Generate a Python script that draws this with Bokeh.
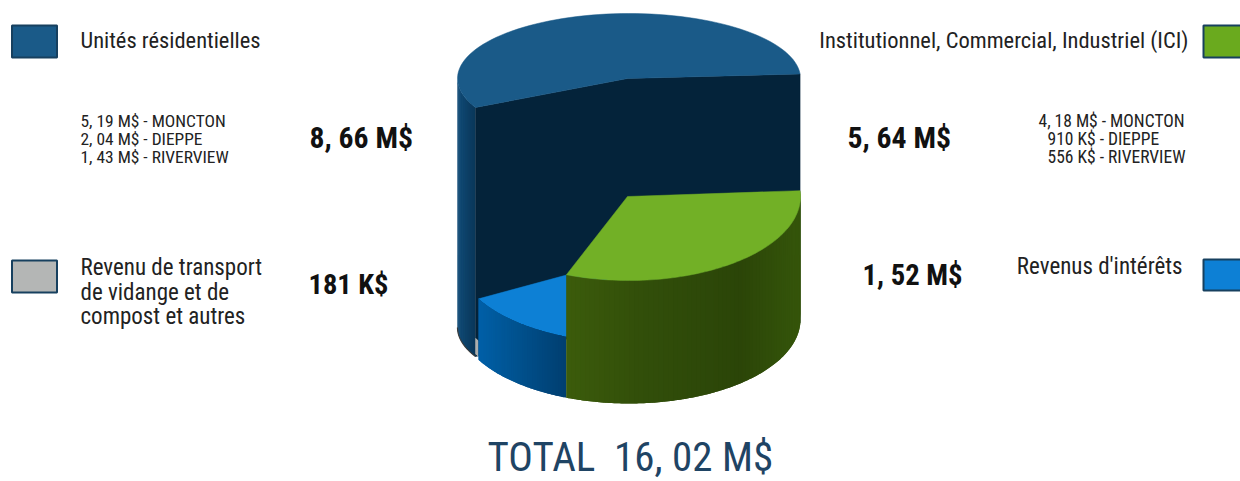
import math
from bokeh.plotting import figure
from bokeh.core.properties import value
from bokeh.embed import file_html
from bokeh.resources import INLINE

# ---- data ----
categories = ["Institutionnel, Commercial, Industriel (ICI)", "Revenus d'intérêts",
              "Revenu de transport de vidange et de compost et autres", "Unités résidentielles"]
amounts_label = ["5, 64 M$", "1, 52 M$", "181 K$", "8, 66 M$"]
# sweep of each slice as drawn in the picture (degrees, clockwise)
sweeps = [115.4, 39.9, 2.2, 202.5]
start_angle = -4.0
total_label = "TOTAL\u00a0\u00a016, 02 M$"
detail_left = ["5, 19 M$ - MONCTON", "2, 04 M$ - DIEPPE", "1, 43 M$ - RIVERVIEW"]
detail_right = ["4, 18 M$ - MONCTON", "910 K$ - DIEPPE", "556 K$ - RIVERVIEW"]
left_note = ["Revenu de transport", "de vidange et de", "compost et autres"]

FONT = "Roboto Condensed"
CX, RX = 628.5, 171.5
APEX_X = 627

p = figure(width=1240, height=481, x_range=(0, 1240), y_range=(481, 0),
           x_axis_type=None, y_axis_type=None, toolbar_location=None,
           output_backend="svg", min_border=0, outline_line_color=None,
           background_fill_color="white", border_fill_color="white")
p.grid.visible = False


def rim(a, cy, ry):
    t = math.radians(a)
    return CX + RX * math.cos(t), cy + ry * math.sin(t)


def arc(a0, a1, cy, ry, n=80):
    pts = [rim(a0 + (a1 - a0) * i / n, cy, ry) for i in range(n + 1)]
    return [q[0] for q in pts], [q[1] for q in pts]


def hexmix(stops, x):
    for (x0, c0), (x1, c1) in zip(stops, stops[1:]):
        if x <= x1:
            f = max(0.0, (x - x0) / (x1 - x0))
            break
    else:
        (x0, c0), (x1, c1), f = stops[-2], stops[-1], 1.0
    ch = lambda c, i: int(c[i:i + 2], 16)
    return "#%02x%02x%02x" % tuple(round(ch(c0, i) + (ch(c1, i) - ch(c0, i)) * f) for i in (1, 3, 5))


def side(a0, a1, cy, ry, h, stops, n=70):
    # each strip overlaps the next one, so no seams appear between them
    xs, ys, cs = [], [], []
    for i in range(n):
        bx, by = arc(a0 + (a1 - a0) * i / n, a0 + (a1 - a0) * min(i + 2, n) / n, cy, ry, n=4)
        xs.append(bx + bx[::-1])
        ys.append(by + [v + h for v in by[::-1]])
        cs.append(hexmix(stops, bx[0]))
    p.patches(xs, ys, fill_color=cs, line_color=None)


def top(a0, a1, cy, ry, color):
    x, y = arc(a0, a1, cy, ry)
    p.patch([APEX_X] + x, [cy] + y, fill_color=color, line_color=color, line_width=0.5)


edges = [start_angle]
for s in sweeps:
    edges.append(edges[-1] + s)
(g0, g1), (b0, b1), (y0, y1), (d0, d1) = zip(edges, edges[1:])

# Residential slice (rear, tall)
D_CY, D_RY, D_H = 78, 65, 249
side(d0, 180, D_CY, D_RY, D_H, [(457, "#0f4a76"), (475, "#0a385a")], n=30)
bx, by = arc(d0, 180, D_CY + D_H, D_RY)
p.line(bx, by, line_color="#3a3a3a", line_width=1.2)
sx, sy = rim(d0, D_CY, D_RY)
ex, ey = rim(d1, D_CY, D_RY)
p.patch([APEX_X, ex, ex, APEX_X, sx, sx], [D_CY, ey, ey + D_H, D_CY + D_H, sy + D_H, sy],
        fill_color="#04233a", line_color="#04233a", line_width=0.5)
top(d0, d1, D_CY, D_RY, "#1a5a88")

# Small grey slice
G_CY, G_RY, G_H = 300, 84, 16
side(y0, y1, G_CY, G_RY, G_H, [(470, "#b4b6b5"), (480, "#a9abab")], n=4)

# Interest revenue slice
B_CY, B_RY, B_H = 258, 84, 61
top(b0, b1, B_CY, B_RY, "#0d80d5")
side(b0, b1, B_CY, B_RY, B_H, [(478, "#0060a8"), (525, "#004f8a"), (566, "#003f70")], n=40)

# ICI slice
V_CY, V_RY, V_H = 196, 84, 123
side(g0, g1, V_CY, V_RY, V_H, [(566, "#3c5c0b"), (640, "#324f0a"), (740, "#2b4508"), (795, "#34540a")])
top(g0, g1, V_CY, V_RY, "#72b026")


def label(x, y, txt, size, color="#222222", style="normal", align="left"):
    # y is the wanted baseline; the renderer places the text lower by about 0.38 em
    p.text([x], [y - 0.38 * size], text=[txt], text_font=value(FONT), text_font_size=f"{size}px",
           text_color=color, text_font_style=style, text_align=align, text_baseline="alphabetic")


def swatch(x0, x1, y0_, y1_, fill):
    p.quad(left=[x0], right=[x1], top=[y0_], bottom=[y1_], fill_color=fill,
           line_color="#17405f", line_width=2)


swatch(11.5, 56.5, 25, 57, "#1a5a88")
swatch(11.5, 56.5, 260, 292, "#b4b6b5")
swatch(1203, 1245, 25, 57, "#6aaa1e")
swatch(1203, 1245, 259, 290, "#0d80d5")

label(80, 48, categories[3], 22.5)
label(1188, 48, categories[0], 22.5, align="right")
label(1182, 275, categories[1], 23, align="right")
for i, t in enumerate(left_note):
    label(80, 276 + i * 24.5, t, 23)
for i, t in enumerate(detail_left):
    label(80, 127 + i * 18, t, 17.4)
for i, (t, x) in enumerate(zip(detail_right, (1038, 1047, 1047))):
    label(x, 127 + i * 18, t, 17.5)

label(309, 148, amounts_label[3], 29.7, "#111111", "bold")
label(847, 148, amounts_label[0], 29.7, "#111111", "bold")
label(308, 295, amounts_label[2], 28.5, "#111111", "bold")
label(862, 285, amounts_label[1], 28.7, "#111111", "bold")
label(487, 472, total_label, 41, "#1f4464")

open("out.html", "w").write(file_html(p, INLINE))
